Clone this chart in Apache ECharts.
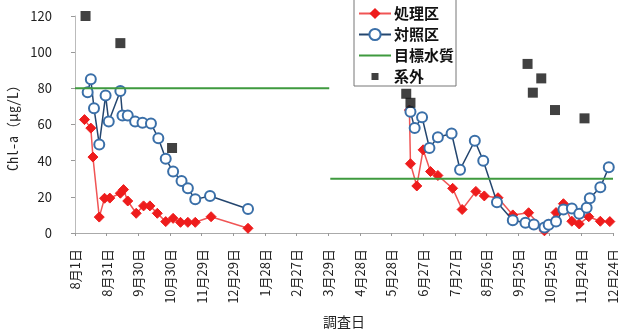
<!DOCTYPE html>
<html>
<head>
<meta charset="utf-8">
<script src="https://cdn.jsdelivr.net/npm/echarts@6/dist/echarts.min.js"></script>
<style>
html,body{margin:0;padding:0;background:#fff;}
#chart{width:618px;height:329px;}
</style>
</head>
<body>
<div id="chart"></div>
<script>
// x values are days counted from 8月1日 (first survey year)
const tickLabels = ['8月1日','8月31日','9月30日','10月30日','11月29日','12月29日','1月28日','2月27日','3月29日','4月28日','5月28日','6月27日','7月27日','8月26日','9月25日','10月25日','11月24日','12月24日'];

const treatDays   = [9,15,17,23,28,33,43,46,50,58,65,71,78,86,93,100,107,114,129,164, 240, 317,318,324,330,337,344,358,367,380,388,401,415,430,445,449,456,463,471,478,487,498,507];
const treatValues = [62.7,58,42,8.8,19.2,19.3,22,24,17.7,10.9,15,15,10.9,6.3,8.1,5.9,5.9,5.9,9,2.6, null, 68,38.3,26,46,34,31.8,24.7,13,23,20.5,19.5,10,11.2,1.2,5,11.3,16.2,6.5,5,9,6.5,6.3];

const controlDays   = [12,15,18,23,29,32,43,45,50,57,64,72,79,86,93,101,107,114,128,164, 240, 318,322,329,336,344,357,365,379,387,400,415,427,435,445,449,456,463,471,478,485,488,498,506];
const controlValues = [77.8,85,69,49,76,61.6,78.5,65,65,61.6,61,60.6,52.4,41,34,28.8,24.7,18.6,20.5,13.3, null, 67,58,64,47,53,55,35,51,40,17,7,5.7,4.7,3,4.5,6.3,13,13.6,10.7,14,19.2,25.3,36.3];

const targetDays   = [0,241,241,242,510];
const targetValues = [80,80,null,30,30];

const outsideDays   = [10,43,92,314,318,429,434,442,455,483];
const outsideValues = [120,105,47,77,72,93.5,77.6,85.5,68,63.4];

const pairs = (xs, ys) => xs.map((x, i) => [x, ys[i] === null ? '-' : ys[i]]);
const FONT = '"Noto Sans CJK JP", "Noto Sans", sans-serif';
const MONO = '"Noto Sans Mono CJK JP", "DejaVu Sans Mono", "Noto Sans CJK JP", monospace';
const svgIcon = s => 'image://data:image/svg+xml;utf8,' + encodeURIComponent('<svg xmlns="http://www.w3.org/2000/svg" width="32" height="14" viewBox="0 0 32 14">' + s + '</svg>');

const chart = echarts.init(document.getElementById('chart'), null, {renderer: 'canvas'});
chart.setOption({
  animation: false,
  backgroundColor: '#fff',
  grid: {left: 75, right: 5, top: 16, bottom: 96, containLabel: false, outerBoundsMode: 'none'},
  legend: {
    orient: 'vertical',
    left: 354,
    top: -4,
    padding: [10, 2, 2, 4],
    itemWidth: 32,
    itemHeight: 14,
    itemGap: 6,
    borderColor: '#777',
    borderWidth: 1,
    backgroundColor: '#fff',
    textStyle: {fontSize: 15, lineHeight: 14, fontWeight: 'bold', color: '#111', fontFamily: FONT, padding: [0,0,0,-2]},
    data: [
      {name: '処理区'},
      {name: '対照区'},
      {name: '目標水質', icon: svgIcon('<rect x="0" y="6" width="32" height="2" fill="#3f9a3f"/>')},
      {name: '系外', icon: svgIcon('<rect x="12.5" y="3.5" width="7" height="7" fill="#111"/>')}
    ]
  },
  xAxis: {
    type: 'value',
    min: 0, max: 510, interval: 30,
    name: '調査日',
    nameLocation: 'middle',
    nameGap: 82,
    nameTextStyle: {fontSize: 14, color: '#222', fontFamily: FONT},
    axisLine: {show: true, onZero: false, lineStyle: {color: '#aaa', width: 1}},
    axisTick: {show: true, length: 3, lineStyle: {color: '#999'}},
    axisLabel: {
      rotate: 90, margin: 16, fontSize: 13, color: '#222', fontFamily: FONT,
      formatter: v => (v % 30 === 0 ? (tickLabels[v / 30] || '') : '')
    },
    splitLine: {show: false}
  },
  yAxis: {
    type: 'value',
    min: 0, max: 120, interval: 20,
    name: 'Chl-a（μg/L）',
    nameLocation: 'middle',
    nameRotate: 90,
    nameGap: 45,
    nameTextStyle: {fontSize: 14, color: '#222', fontFamily: MONO},
    axisLine: {show: true, lineStyle: {color: '#bbb', width: 1}},
    axisTick: {show: true, length: 4, lineStyle: {color: '#999'}},
    axisLabel: {margin: 23, fontSize: 13, color: '#222', fontFamily: FONT},
    splitLine: {show: false}
  },
  series: [
    {
      name: '処理区', type: 'line',
      data: pairs(treatDays, treatValues),
      connectNulls: false,
      symbol: 'diamond', symbolSize: 10,
      lineStyle: {color: '#f05555', width: 1.5},
      itemStyle: {color: '#ee1c1c', borderColor: '#ee1c1c'},
      z: 2
    },
    {
      name: '対照区', type: 'line',
      data: pairs(controlDays, controlValues),
      connectNulls: false,
      symbol: 'circle', symbolSize: 10,
      lineStyle: {color: '#24466f', width: 1.5},
      itemStyle: {color: '#ffffff', borderColor: '#3a6fa8', borderWidth: 2},
      z: 3
    },
    {
      name: '目標水質', type: 'line',
      data: pairs(targetDays, targetValues),
      connectNulls: false,
      symbol: 'none',
      lineStyle: {color: '#3f9a3f', width: 2},
      itemStyle: {color: '#3f9a3f'},
      z: 4
    },
    {
      name: '系外', type: 'scatter',
      data: pairs(outsideDays, outsideValues),
      symbol: 'rect', symbolSize: 10,
      itemStyle: {color: '#111'},
      z: 5
    }
  ]
});
</script>
</body>
</html>
